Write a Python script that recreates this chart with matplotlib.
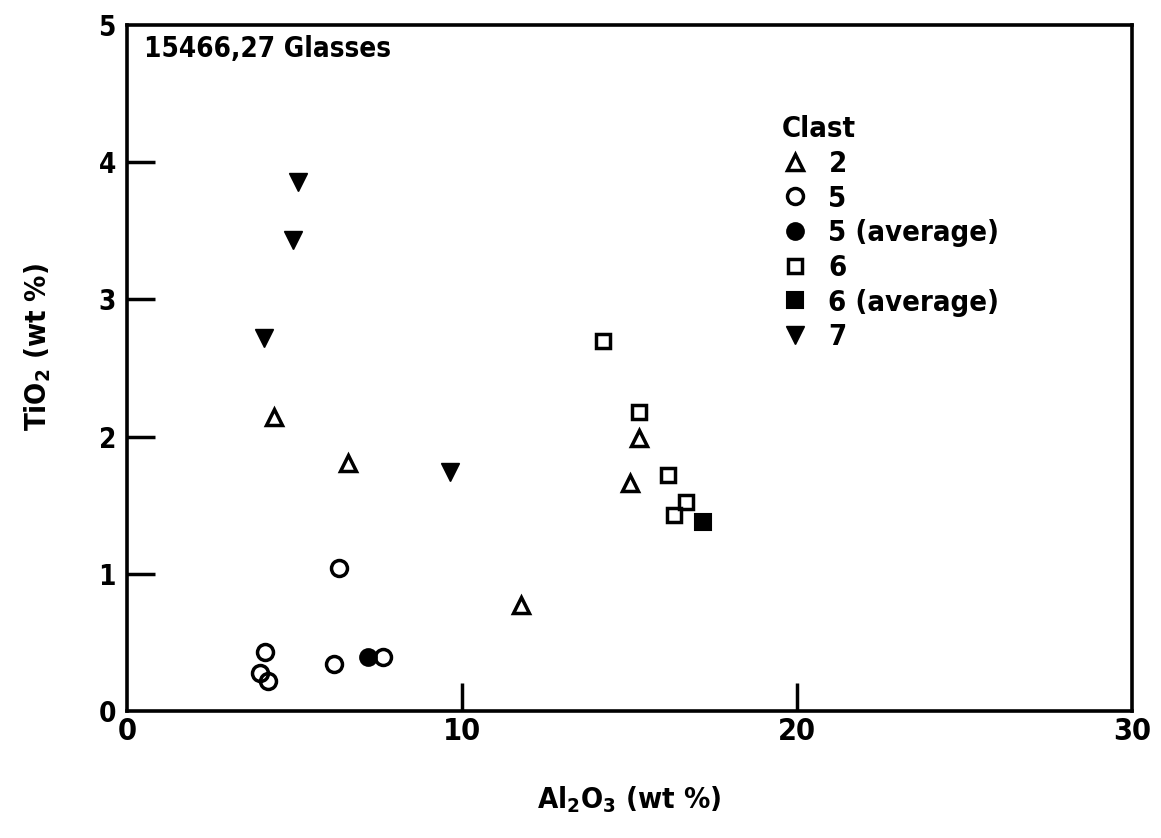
import matplotlib
matplotlib.use("Agg")
import matplotlib.pyplot as plt

plt.rcParams['font.family'] = ['DejaVu Sans']
plt.rcParams['font.stretch'] = 'condensed'
plt.rcParams['font.weight'] = 'bold'
plt.rcParams['mathtext.fontset'] = 'custom'
plt.rcParams['mathtext.rm'] = 'DejaVu Sans:weight=bold:stretch=condensed'
plt.rcParams['mathtext.bf'] = 'DejaVu Sans:weight=bold:stretch=condensed'
plt.rcParams['mathtext.default'] = 'rm'

# Clast 2 (open triangles)
clast2_al = [4.39, 6.60, 11.76, 15.28, 15.01]
clast2_ti = [2.14, 1.81, 0.77, 1.99, 1.66]

# Clast 5 (open circles)
clast5_al = [4.12, 3.97, 4.21, 6.33, 6.18, 7.64]
clast5_ti = [0.43, 0.28, 0.22, 1.04, 0.34, 0.39]
clast5_avg_al = [7.19]
clast5_avg_ti = [0.39]

# Clast 6 (open squares)
clast6_al = [14.21, 15.28, 16.15, 16.70, 16.33]
clast6_ti = [2.70, 2.18, 1.72, 1.52, 1.43]
clast6_avg_al = [17.20]
clast6_avg_ti = [1.38]

# Clast 7 (filled inverted triangles)
clast7_al = [5.10, 4.96, 4.09, 9.64]
clast7_ti = [3.86, 3.43, 2.72, 1.74]

fig = plt.figure(figsize=(11.61, 8.38), dpi=100)
ax = fig.add_axes([0.1094, 0.1516, 0.8656, 0.8184])

ax.plot(clast2_al, clast2_ti, ls='none', marker='^', ms=11, mfc='white', mec='black', mew=2.5, label='2')
ax.plot(clast5_al, clast5_ti, ls='none', marker='o', ms=11.5, mfc='none', mec='black', mew=2.5, label='5')
ax.plot(clast5_avg_al, clast5_avg_ti, ls='none', marker='o', ms=12, mfc='black', mec='black', mew=1.5, label='5 (average)')
ax.plot(clast6_al, clast6_ti, ls='none', marker='s', ms=10, mfc='none', mec='black', mew=2.5, label='6')
ax.plot(clast6_avg_al, clast6_avg_ti, ls='none', marker='s', ms=11, mfc='black', mec='black', mew=1.5, label='6 (average)')
ax.plot(clast7_al, clast7_ti, ls='none', marker='v', ms=13, mfc='black', mec='black', mew=1, label='7')

ax.set_xlim(0, 30)
ax.set_ylim(0, 5)
ax.set_xticks([0, 10, 20, 30])
ax.set_yticks([0, 1, 2, 3, 4, 5])
ax.tick_params(axis='x', direction='in', length=20, width=2.5, labelsize=22, pad=4)
ax.tick_params(axis='y', direction='in', length=20, width=2.5, labelsize=20, pad=8)
# no tick marks on the corners, only the labels
for t in [ax.xaxis.get_major_ticks()[0], ax.xaxis.get_major_ticks()[-1],
          ax.yaxis.get_major_ticks()[0], ax.yaxis.get_major_ticks()[-1]]:
    t.tick1line.set_visible(False)
for s in ax.spines.values():
    s.set_linewidth(2.6)

ax.set_xlabel(r'$\mathrm{Al_2O_3\ (wt\ \%)}$', fontsize=21, labelpad=28)
ax.set_ylabel(r'$\mathrm{TiO_2\ (wt\ \%)}$', fontsize=21)
ax.yaxis.set_label_coords(-0.074, 0.53)

ax.text(0.017, 0.985, '15466,27 Glasses', transform=ax.transAxes, fontsize=20,
        ha='left', va='top')

leg = ax.legend(title='Clast', loc='upper left', bbox_to_anchor=(0.637, 0.89),
                frameon=False, fontsize=21, title_fontsize=21, numpoints=1,
                handlelength=0.9, handletextpad=0.7, labelspacing=0.23,
                borderpad=0, alignment='left')
leg.get_title().set_fontweight('bold')

fig.savefig('out.png', dpi=100)
